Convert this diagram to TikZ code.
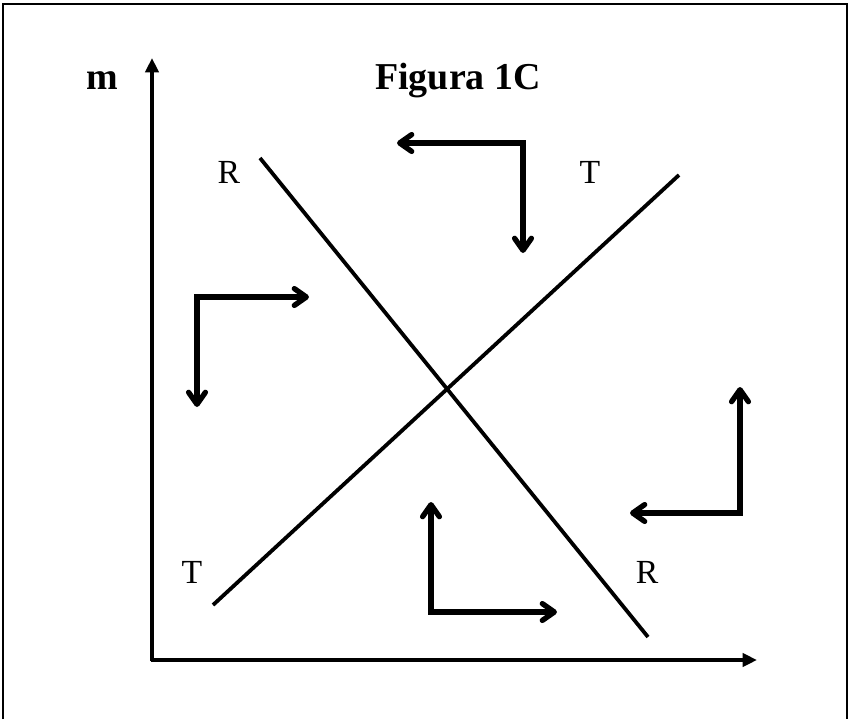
\documentclass[tikz,border=0pt]{standalone}
\usepackage{fontspec}
\setmainfont{Liberation Serif}
\usepackage{tikz}
\usetikzlibrary{arrows.meta}

\begin{document}
\begin{tikzpicture}[
  x=0.025cm, y=-0.025cm,
  frame/.style={line width=2pt},
  axis/.style={line width=2.8pt, -{Triangle[length=0.36cm, width=0.33cm]}},
  curve/.style={line width=2.7pt},
  turn/.style={line width=3.8pt, line join=miter,
    {Straight Barb[round, length=0.3cm, width=0.42cm]}-{Straight Barb[round, length=0.3cm, width=0.42cm]}},
  lbl/.style={inner sep=0pt, font=\fontsize{24}{26}\selectfont},
  ttl/.style={inner sep=0pt, anchor=base, font=\bfseries\fontsize{27}{30}\selectfont},
]
  \useasboundingbox (0,0) rectangle (850,719);
  \draw[frame] (3,719) -- (3,4) -- (847,4) -- (847,719);

  % axes
  \coordinate (o) at (152,660);
  \coordinate (ytop) at (152,58);
  \coordinate (xend) at (757,660);
  \draw[axis] ([yshift=-1pt]o) -- (ytop);
  \draw[axis] ([xshift=-1pt]o) -- (xend);
  \node[ttl] (m) at (102,89) {m};
  \node[ttl] (title) at (458,89) {Figura 1C};

  % R and T lines
  \coordinate (r1) at (260,158);
  \coordinate (r2) at (648,637);
  \coordinate (t1) at (213,605);
  \coordinate (t2) at (679,175);
  \draw[curve] (r1) -- (r2);
  \draw[curve] (t1) -- (t2);
  \node[lbl] (rtop) at (229,172) {R};
  \node[lbl] (ttop) at (590,172) {T};
  \node[lbl] (tbot) at (192,572) {T};
  \node[lbl] (rbot) at (647,572) {R};

  % direction arrows
  \coordinate (c1) at (523,143);
  \coordinate (c2) at (197,297);
  \coordinate (c3) at (740,513);
  \coordinate (c4) at (431,612);
  \draw[turn] (397,143) -- (c1) -- (523,253);
  \draw[turn] (309,297) -- (c2) -- (197,407);
  \draw[turn] (740,387) -- (c3) -- (630,513);
  \draw[turn] (431,502) -- (c4) -- (557,612);
\end{tikzpicture}
\end{document}
